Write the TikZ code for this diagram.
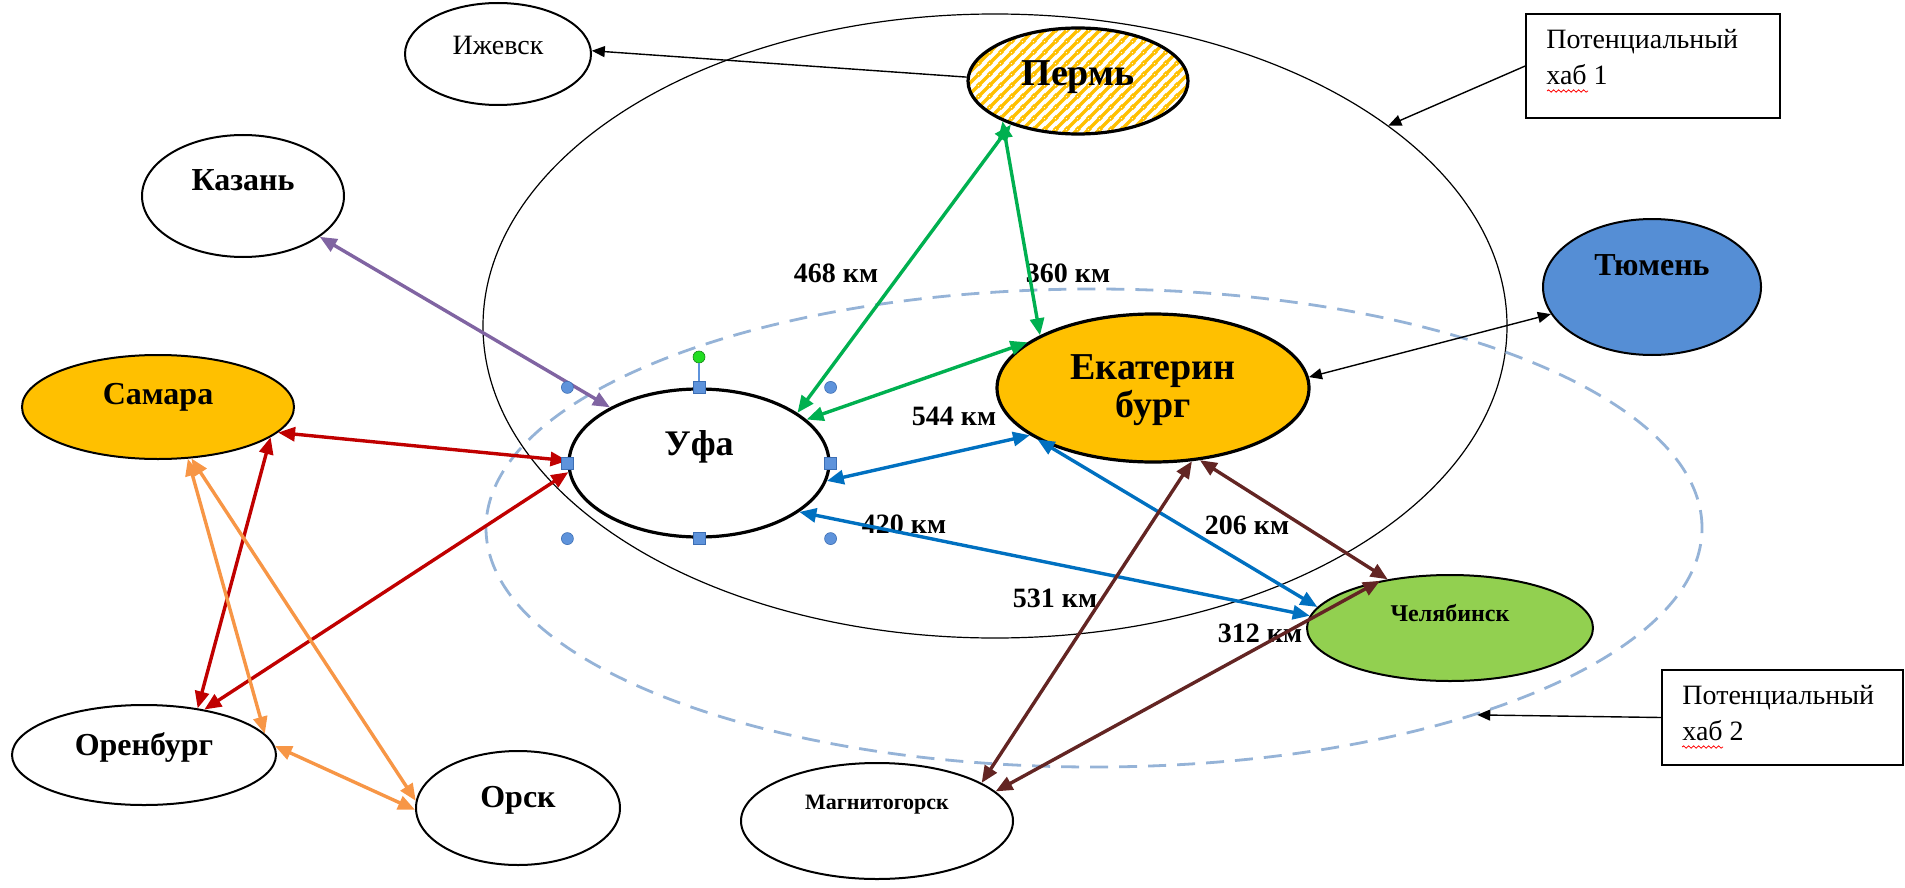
\documentclass[tikz,border=0pt]{standalone}
\usepackage{fontspec}
\setmainfont{Liberation Serif}
\usetikzlibrary{shapes.geometric,arrows.meta,patterns.meta,decorations.pathmorphing}

\definecolor{hubgold}{HTML}{FFC000}
\definecolor{tyumenblue}{HTML}{558ED5}
\definecolor{chelgreen}{HTML}{92D050}
\definecolor{dashblue}{HTML}{95B3D7}
\definecolor{roadgreen}{HTML}{00B050}
\definecolor{roadblue}{HTML}{0070C0}
\definecolor{roadbrown}{HTML}{632523}
\definecolor{roadpurple}{HTML}{8064A2}
\definecolor{roadred}{HTML}{C00000}
\definecolor{roadorange}{HTML}{F79646}
\definecolor{handleblue}{HTML}{5E93DB}
\definecolor{handleedge}{HTML}{3C6EB4}
\definecolor{rotgreen}{HTML}{22DD22}

\tikzdeclarepattern{
  name=goldstripes,
  type=uncolored,
  bottom left={(0pt,0pt)},
  top right={(5.5pt,5.5pt)},
  tile size={(5.5pt,5.5pt)},
  code={
    \draw[line width=1.8pt] (0pt,0pt) -- (5.5pt,5.5pt)
      (-1pt,4.5pt) -- (1pt,6.5pt)
      (4.5pt,-1pt) -- (6.5pt,1pt);
  }
}

\tikzset{
  city/.style={ellipse, draw, line width=1pt, fill=white, inner sep=0pt},
  bigcity/.style={city, line width=1.6pt},
  cityname/.style={font=\bfseries\fontsize{16}{16}\selectfont, inner sep=0pt},
  dist/.style={font=\bfseries\fontsize{14}{14}\selectfont, inner sep=0pt},
  road/.style={line width=1.7pt, {Triangle[length=8.5pt,width=7pt]}-{Triangle[length=8.5pt,width=7pt]}},
  thinroad/.style={line width=0.7pt, {Triangle[length=6.5pt,width=5.5pt]}-{Triangle[length=6.5pt,width=5.5pt]}},
  pointer/.style={line width=0.7pt, -{Triangle[length=6.5pt,width=5.5pt]}},
  hubbox/.style={rectangle, draw, line width=0.8pt, inner sep=0pt},
  boxtext/.style={font=\fontsize{14}{18}\selectfont, align=left, inner sep=0pt},
  squiggle/.style={red, line width=0.4pt, decorate, decoration={snake, amplitude=0.6pt, segment length=2.5pt}},
  handle/.style={rectangle, draw=handleedge, fill=handleblue, line width=0.3pt, minimum size=6pt, inner sep=0pt},
  knob/.style={circle, draw=handleedge, fill=handleblue, line width=0.3pt, minimum size=6pt, inner sep=0pt}
}

\begin{document}
\begin{tikzpicture}[x=0.5pt, y=-0.5pt]
  \useasboundingbox (0,0) rectangle (1905,888);

  \node (hub1) [ellipse, draw, line width=0.6pt, inner sep=0pt, minimum width=512pt, minimum height=312pt] at (995, 326) {};
  \node (hub2) [ellipse, draw=dashblue, line width=1.4pt, dash pattern=on 9pt off 5.5pt, inner sep=0pt, minimum width=608pt, minimum height=239pt] at (1094, 528) {};

  \node (izh) [city, minimum width=93pt, minimum height=51pt, label={[cityname, font=\fontsize{14}{14}\selectfont, yshift=4.5pt]center:Ижевск}] at (498, 54) {};
  \node (perm) [bigcity, preaction={fill=white}, pattern=goldstripes, pattern color=hubgold, minimum width=110pt, minimum height=53pt, label={[cityname, font=\bfseries\fontsize{19}{19}\selectfont, yshift=2pt]center:Пермь}] at (1078, 81) {};
  \node (kazan) [city, minimum width=101pt, minimum height=61pt, label={[cityname, yshift=8pt]center:Казань}] at (243, 196) {};
  \node (tyumen) [city, fill=tyumenblue, minimum width=109pt, minimum height=68pt, label={[cityname, yshift=11pt]center:Тюмень}] at (1652, 287) {};
  \node (ekb) [bigcity, fill=hubgold, minimum width=156pt, minimum height=74pt, label={[cityname, font=\bfseries\fontsize{19}{19}\selectfont, align=center, yshift=-1pt]center:Екатерин\\бург}] at (1153, 388) {};
  \node (ufa) [bigcity, minimum width=130pt, minimum height=74pt, label={[cityname, font=\bfseries\fontsize{18}{18}\selectfont, yshift=8pt]center:Уфа}] at (699, 463) {};
  \node (samara) [city, fill=hubgold, minimum width=136pt, minimum height=52pt, label={[cityname, yshift=5pt]center:Самара}] at (158, 407) {};
  \node (orenburg) [city, minimum width=132pt, minimum height=50pt, label={[cityname, yshift=4pt]center:Оренбург}] at (144, 755) {};
  \node (orsk) [city, minimum width=102pt, minimum height=57pt, label={[cityname, yshift=4pt]center:Орск}] at (518, 808) {};
  \node (magn) [city, minimum width=136pt, minimum height=58pt, label={[cityname, font=\bfseries\fontsize{11}{11}\selectfont, yshift=8pt]center:Магнитогорск}] at (877, 821) {};
  \node (chel) [city, fill=chelgreen, minimum width=143pt, minimum height=53pt, label={[cityname, font=\bfseries\fontsize{12}{12}\selectfont, yshift=7.5pt]center:Челябинск}] at (1450, 628) {};

  \node (box1) [hubbox, minimum width=127pt, minimum height=52pt] at (1653, 66) {};
  \node (box1txt) [boxtext, anchor=base west] at (1546, 85) {Потенциальный\\хаб 1};
  \node (box2) [hubbox, minimum width=120.5pt, minimum height=47.5pt] at (1782.5, 717.5) {};
  \node (box2txt) [boxtext, anchor=base west] at (1682, 740) {Потенциальный\\хаб 2};
  \draw [squiggle] (1547, 91) -- (1588, 91);
  \draw [squiggle] (1682, 747) -- (1723, 747);

  \node (d468) [dist] at (836, 273) {468 км};
  \node (d360) [dist] at (1068, 273) {360 км};
  \node (d544) [dist] at (954, 416) {544 км};
  \node (d420) [dist] at (904, 524) {420 км};
  \node (d206) [dist] at (1247, 525) {206 км};
  \node (d531) [dist] at (1055, 598) {531 км};
  \node (d312) [dist] at (1260, 633) {312 км};

  \draw (ufa.27) edge[road, roadgreen] (perm.213);
  \draw (perm.208) edge[road, roadgreen] (ekb.155);
  \draw (ufa.22) edge[road, roadgreen] (ekb.160);

  \draw (ufa.352) edge[road, roadblue] (ekb.201);
  \draw (ufa.334) edge[road, roadblue] (chel.175);
  \draw (ekb.204) edge[road, roadblue] (chel.171);

  \draw (ekb.303) edge[road, roadbrown] (chel.142);
  \draw (magn.20) edge[road, roadbrown] (ekb.298);
  \draw (magn.14) edge[road, roadbrown] (chel.146);

  \draw (kazan.332) edge[road, roadpurple] (ufa.148);

  \draw (samara.348) edge[road, roadred] (ufa.179);
  \draw (samara.345) edge[road, roadred] (orenburg.41);
  \draw (orenburg.37) edge[road, roadred] (ufa.184);

  \draw (samara.300) edge[road, roadorange] (orenburg.10);
  \draw (samara.303) edge[road, roadorange] (orsk.176);
  \draw (orenburg.4) edge[road, roadorange] (orsk.181);

  \draw (perm.178) edge[pointer] (izh.2);
  \draw (tyumen.195) edge[thinroad] (ekb.4);
  \draw (box1.west) edge[pointer] (hub1.27);
  \draw (box2.west) edge[pointer] (hub2.334);

  \node (hn) [handle] at (ufa.north) {};
  \node (hs) [handle] at (ufa.south) {};
  \node (hw) [handle] at (ufa.west) {};
  \node (he) [handle] at (ufa.east) {};
  \foreach \v/\h in {north/west, north/east, south/west, south/east}
    \node (knob-\v-\h) [knob] at (ufa.\v -| ufa.\h) {};
  \node (rot) [knob, fill=rotgreen, draw=rotgreen!60!black] at (699, 357) {};
  \draw [handleblue, line width=0.6pt] (rot) -- (hn);
\end{tikzpicture}
\end{document}
